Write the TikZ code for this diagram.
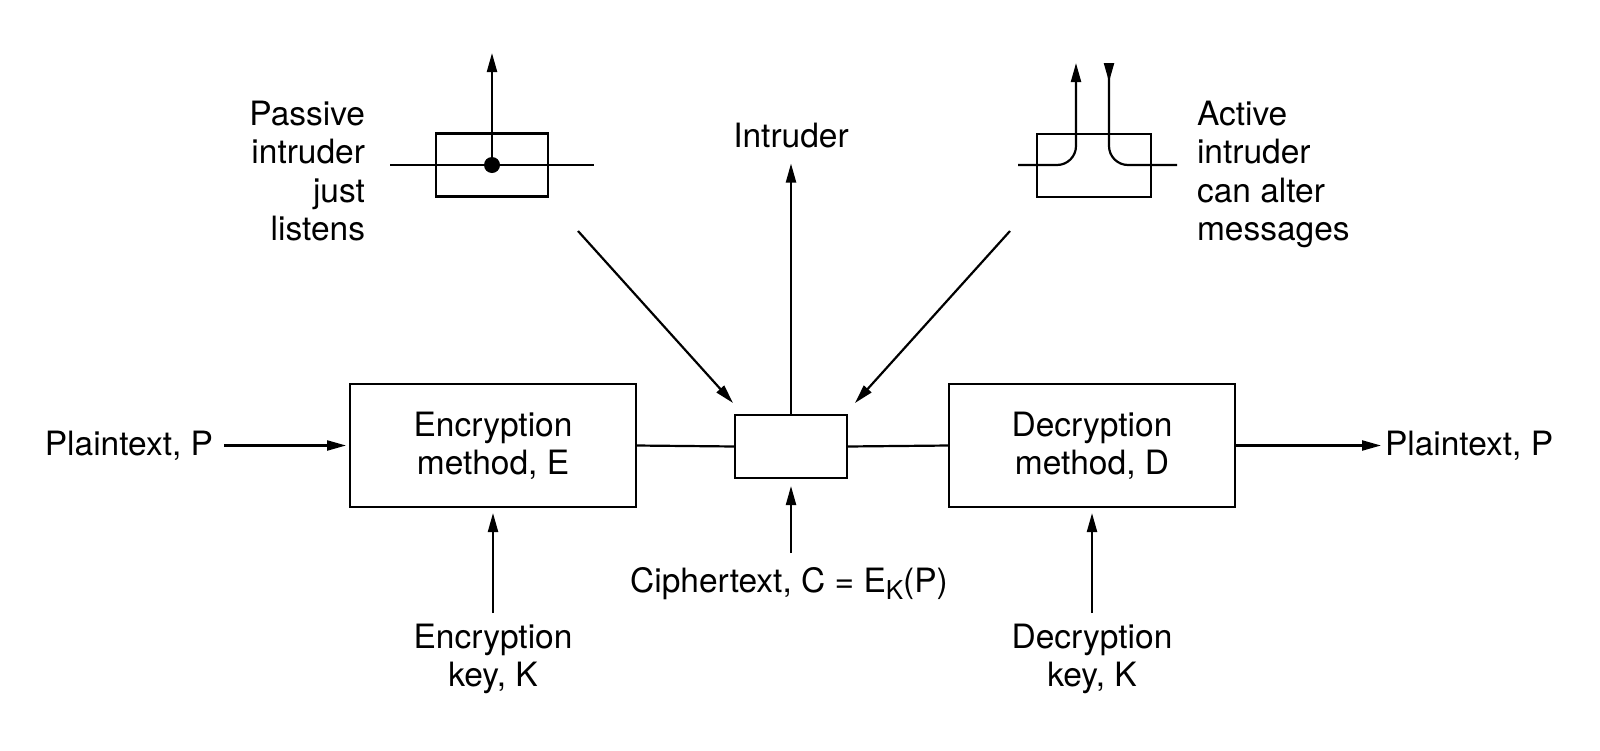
\documentclass[tikz,border=0pt]{standalone}
\usepackage{fontspec}
\setmainfont{TeX Gyre Heros}
\usetikzlibrary{arrows.meta}
\begin{document}
\begin{tikzpicture}[x=1pt,y=-1pt,line width=2.2pt,
  every node/.append style={font=\fontsize{33.5}{38.5}\selectfont},
  box/.style={draw, inner sep=0pt, outer sep=0pt, align=center},
  txt/.style={inner sep=0pt, outer sep=0pt},
  arr/.style={-{Triangle[length=19pt,width=10pt]}}]
\useasboundingbox (0,0) rectangle (1600,750);

% main boxes
\node[box, minimum width=286pt, minimum height=123pt] (enc) at (493,445.5) {Encryption\\method, E};
\node[box, minimum width=286pt, minimum height=123pt] (dec) at (1092,445.5) {Decryption\\method, D};
\node[box, minimum width=112pt, minimum height=63pt] (cbox) at (791,446.5) {};

% plaintext labels
\node[txt, anchor=base east] (ptl) at (213,455) {Plaintext, P};
\node[txt, anchor=base west] (ptr) at (1385,455) {Plaintext, P};
\draw[arr] ([xshift=11pt]ptl.east |- enc.west) -- ([xshift=-4pt]enc.west);
\draw[arr] (dec.east) -- ([xshift=-4pt]ptr.west |- dec.east);
\draw (enc.east) -- (cbox.west);
\draw (cbox.east) -- (dec.west);

% keys
\node[txt, align=center, anchor=north] (ekey) at (493,624) {Encryption\\key, K};
\node[txt, align=center, anchor=north] (dkey) at (1092,624) {Decryption\\key, K};
\draw[arr] ([yshift=11pt]ekey.north) -- ([yshift=-6pt]enc.south);
\draw[arr] ([yshift=11pt]dkey.north) -- ([yshift=-6pt]dec.south);

% ciphertext
\node[txt, anchor=base] (ctext) at (789,592) {Ciphertext, C = E\raisebox{-7pt}{\fontsize{26}{26}\selectfont K}(P)};
\coordinate (cb) at (791,553);
\draw[arr] (cb) -- ([yshift=-8pt]cbox.south);

% intruder
\node[txt, anchor=base] (intr) at (791,147) {Intruder};
\draw[arr] (cbox.north) -- ([yshift=-16pt]intr.south);

% diagonal arrows
\coordinate (dl) at (578,231);
\coordinate (dr) at (1010,231);
\draw[arr] (dl) -- ([shift={(-2pt,12pt)}]cbox.north west);
\draw[arr] (dr) -- ([shift={(8pt,12pt)}]cbox.north east);

% passive intruder
\node[box, minimum width=112pt, minimum height=63pt] (pbox) at (492,165) {};
\coordinate (pl) at (390,165);
\coordinate (pr) at (594,165);
\coordinate (ptop) at (492,53);
\draw (pl) -- (pr);
\fill (pbox.center) circle[radius=8pt];
\draw[arr] (pbox.center) -- (ptop);
\node[txt, align=right, anchor=north east] (ptxt) at (365,101) {Passive\\intruder\\just\\listens};

% active intruder
\node[box, minimum width=114pt, minimum height=63pt] (abox) at (1094,165.5) {};
\coordinate (al) at (1018,165);
\coordinate (ar) at (1177,165);
\coordinate (aup) at (1076,63);
\coordinate (adn) at (1109,63);
\draw[arr] (al) -- (1057,165) arc[start angle=-90,end angle=0,radius=19pt] -- (aup);
\draw (adn) -- (1109,146) arc[start angle=180,end angle=270,radius=19pt] -- (ar);
\draw[arr] (adn) -- ++(0,19);
\node[txt, align=left, anchor=north west] (atxt) at (1197,101) {Active\\intruder\\can alter\\messages};
\end{tikzpicture}
\end{document}
